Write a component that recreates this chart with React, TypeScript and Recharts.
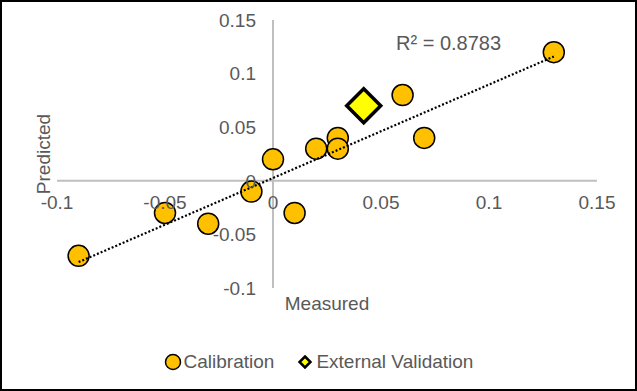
import { ScatterChart, Scatter, XAxis, YAxis, ReferenceLine, ReferenceDot, Legend } from "recharts";

const calX = [-0.09, -0.05, -0.03, -0.01, 0, 0.01, 0.02, 0.03, 0.03, 0.06, 0.07, 0.13];
const calY = [-0.07, -0.03, -0.04, -0.01, 0.02, -0.03, 0.03, 0.04, 0.03, 0.08, 0.04, 0.12];
const extX = [0.042];
const extY = [0.07];
// trendline end points (linear fit shown in the picture)
const trendX = [-0.09, 0.13];
const trendY = [-0.0758, 0.1159];
const xTicks = [-0.1, -0.05, 0, 0.05, 0.1, 0.15];
const yTicks = [-0.1, -0.05, 0, 0.05, 0.1, 0.15];
const tickText = (v: number) => String(v);
const r2Label = "R² = 0.8783";

const FONT = "'Liberation Sans', Arial, sans-serif";
const GREY = "#595959";

const calData = calX.map((x, i) => ({ x, y: calY[i] }));
const extData = extX.map((x, i) => ({ x, y: extY[i] }));
const trendData = trendX.map((x, i) => ({ x, y: trendY[i] }));

const Circle = (p: any) => (
  <circle cx={p.cx} cy={p.cy} r={10.5} fill="#FFC000" stroke="#000" strokeWidth={1.5} />
);
const Diamond = (p: any) => {
  const s = 17;
  return (
    <polygon
      points={`${p.cx},${p.cy - s} ${p.cx + s},${p.cy} ${p.cx},${p.cy + s} ${p.cx - s},${p.cy}`}
      fill="#FFFF00"
      stroke="#000"
      strokeWidth={3.5}
      strokeLinejoin="miter"
    />
  );
};

function LegendBox() {
  return (
    <div style={{ display: "flex", justifyContent: "center", alignItems: "center", height: 24, fontFamily: FONT, fontSize: 19, color: GREY }}>
      <svg width={18} height={18} style={{ marginRight: 2 }}>
        <circle cx={9} cy={9} r={7.5} fill="#FFC000" stroke="#000" strokeWidth={1.5} />
      </svg>
      <span>Calibration</span>
      <svg width={14} height={14} style={{ marginLeft: 24, marginRight: 4 }}>
        <polygon points="7,1.5 12.5,7 7,12.5 1.5,7" fill="#FFFF00" stroke="#000" strokeWidth={2.5} />
      </svg>
      <span>External Validation</span>
    </div>
  );
}

export default function App() {
  return (
    <div style={{ position: "absolute", left: 0, top: 0, width: 637, height: 391, background: "#fff" }}>
      <ScatterChart width={637} height={391} margin={{ top: 20, right: 40, bottom: 103, left: 57 }}>
        <XAxis type="number" dataKey="x" domain={[-0.1, 0.15]} ticks={xTicks} hide />
        <YAxis type="number" dataKey="y" domain={[-0.1, 0.15]} ticks={yTicks} hide />
        <ReferenceLine x={0} stroke="#bfbfbf" strokeWidth={2} />
        <ReferenceLine y={0} stroke="#bfbfbf" strokeWidth={2} />
        {xTicks.map((t) => (
          <ReferenceDot
            key={"xt" + t}
            x={t}
            y={0}
            r={0}
            stroke="none"
            label={{ value: tickText(t), position: "bottom", offset: 15, fill: GREY, fontSize: 19, fontFamily: FONT }}
          />
        ))}
        {yTicks.map((t) => (
          <ReferenceDot
            key={"yt" + t}
            x={0}
            y={t}
            r={0}
            stroke="none"
            label={{ value: tickText(t), position: "left", offset: 17, fill: GREY, fontSize: 19, fontFamily: FONT }}
          />
        ))}
        <Scatter name="Calibration" data={calData} shape={Circle} isAnimationActive={false} />
        <Scatter
          name="trend"
          data={trendData}
          line={{ stroke: "#000", strokeWidth: 2.2, strokeDasharray: "2 2" }}
          shape={() => <g />}
          legendType="none"
          isAnimationActive={false}
        />
        <Scatter name="External Validation" data={extData} shape={Diamond} isAnimationActive={false} />
        <text x={396} y={50} fill={GREY} fontSize={20} fontFamily={FONT}>{r2Label}</text>
        <text x={327} y={310} fill={GREY} fontSize={19} fontFamily={FONT} textAnchor="middle">Measured</text>
        <text
          x={0}
          y={0}
          transform="translate(50,154) rotate(-90)"
          fill={GREY}
          fontSize={19}
          fontFamily={FONT}
          textAnchor="middle"
        >
          Predicted
        </text>
        <Legend
          verticalAlign="middle"
          align="center"
          content={() => <LegendBox />}
          wrapperStyle={{ top: 350, left: 0, width: 637, height: 24 }}
        />
      </ScatterChart>
      <div
        style={{
          position: "absolute",
          left: 0,
          top: 0,
          width: 637,
          height: 391,
          boxSizing: "border-box",
          border: "2px solid #000",
          pointerEvents: "none",
        }}
      />
    </div>
  );
}
